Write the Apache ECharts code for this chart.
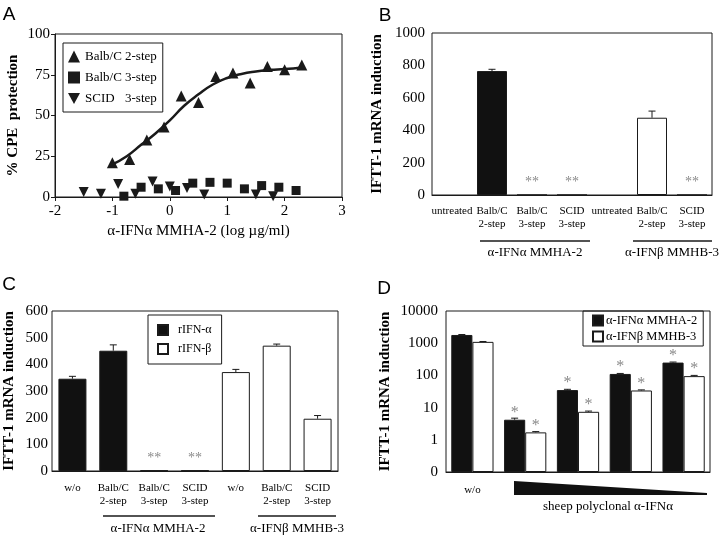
<!DOCTYPE html>
<html>
<head>
<meta charset="utf-8">
<script src="https://cdn.jsdelivr.net/npm/echarts@6/dist/echarts.min.js"></script>
<style>
html, body { margin: 0; padding: 0; background: #fff; }
#chart { width: 720px; height: 537px; }
</style>
</head>
<body>
<div id="chart"></div>
<script>
const SERIF = '"Liberation Serif", "Times New Roman", serif';
const SANS = '"Liberation Sans", Arial, sans-serif';
const INK = '#1a1a1a';
const STAR = '#8a8a8a';

// A - CPE protection vs log antibody dose
const aX2step = [-1.0, -0.7, -0.4, -0.1, 0.2, 0.5, 0.8, 1.1, 1.4, 1.7, 2.0, 2.3];
const aY2step = [21, 23, 35, 43, 62, 58, 74, 76, 70, 80, 78, 81];
const aX3step = [-0.8, -0.5, -0.2, 0.1, 0.4, 0.7, 1.0, 1.3, 1.6, 1.9, 2.2];
const aY3step = [0.5, 6, 5, 4, 8.5, 9, 8.5, 5, 7, 6, 4];
const aXScid = [-1.5, -1.2, -0.9, -0.6, -0.3, 0, 0.3, 0.6, 1.5, 1.8];
const aYScid = [3, 2, 8, 2, 9.5, 6.5, 5.5, 1.5, 1.5, 0.5];
const aFitX = [-1, -0.75, -0.5, -0.25, 0, 0.25, 0.5, 0.75, 1, 1.25, 1.5, 1.75, 2, 2.3];
const aFitY = [20, 25, 32, 39, 47, 56, 63, 69, 73, 75.5, 77, 78, 78.5, 79.5];

// B - IFTT-1 induction, antibodies
const bCats = ['untreated', 'Balb/C\n2-step', 'Balb/C\n3-step', 'SCID\n3-step', 'untreated', 'Balb/C\n2-step', 'SCID\n3-step'];
const bMMHA = [null, 765, 0, 0, null, null, null];
const bMMHB = [null, null, null, null, null, 477, 0];
const bErr = [null, 11, null, null, null, 41, null];
const bSig = ['', '', '**', '**', '', '', '**'];

// C - rIFN-alpha / rIFN-beta
const cCats = ['w/o', 'Balb/C\n2-step', 'Balb/C\n3-step', 'SCID\n3-step', 'w/o', 'Balb/C\n2-step', 'SCID\n3-step'];
const cAlpha = [346, 451, 2, 2, null, null, null];
const cBeta = [null, null, null, null, 371, 470, 196];
const cErr = [9, 22, 0, 0, 10, 6, 12];
const cSig = ['', '', '**', '**', '', '', ''];

// D - sheep polyclonal, log scale
const dCats = ['w/o', '', '', '', ''];
const dMMHA = [1800, 4.2, 35, 111, 250];
const dMMHAErr = [60, 0.5, 2, 4, 10];
const dMMHB = [1100, 1.7, 7.4, 34, 95];
const dMMHBErr = [30, 0.1, 0.4, 1.5, 5];
const dSig = ['', '*', '*', '*', '*'];

const pairs = (xs, ys) => xs.map((x, i) => [x, ys[i]]);

function barData(vals, sig, dist, size) {
  return vals.map((v, i) => v == null ? null : {
    value: v,
    label: { show: !!sig[i], formatter: sig[i], position: 'top', distance: dist,
             color: STAR, fontFamily: SERIF, fontSize: size }
  });
}

function errorBars(xi, yi, vals, errs, count, side, spread) {
  return {
    type: 'custom', xAxisIndex: xi, yAxisIndex: yi, silent: true, z: 5,
    data: vals.map((v, i) => [i, v, errs[i]]).filter(d => d[1] != null && d[2]),
    renderItem(params, api) {
      const band = params.coordSys.width / count;
      const i = api.value(0), v = api.value(1), e = api.value(2);
      const p0 = api.coord([i, v]);
      const p1 = api.coord([i, v + e]);
      const x = p0[0] + side * band * spread;
      return { type: 'group', children: [
        { type: 'line', shape: { x1: x, y1: p0[1], x2: x, y2: p1[1] }, style: { stroke: INK, lineWidth: 1 } },
        { type: 'line', shape: { x1: x - 3.5, y1: p1[1], x2: x + 3.5, y2: p1[1] }, style: { stroke: INK, lineWidth: 1 } }
      ]};
    }
  };
}

const axisBase = {
  axisLine: { onZero: false, lineStyle: { color: INK, width: 1 } },
  axisTick: { length: 4, lineStyle: { color: INK } },
  splitLine: { show: false }
};
const tickFont = { color: '#000', fontFamily: SERIF, fontSize: 15, formatter: v => String(v) };
const catFont = { color: '#000', fontFamily: SERIF, fontSize: 11, lineHeight: 12.5, interval: 0 };
const yName = { color: '#000', fontFamily: SERIF, fontSize: 15, fontWeight: 'bold' };
const IFTT = 'IFTT-1 mRNA induction';

const grid = { show: true, borderColor: INK, borderWidth: 1 };

const black = { color: '#111', borderColor: INK, borderWidth: 1 };
const white = { color: '#fff', borderColor: INK, borderWidth: 1 };
const dot = { color: INK, opacity: 1 };
const downTriangle = 'path://M0,0 L10,0 L5,9 Z';

function gtext(text, x, y, font) {
  return { type: 'text', x: x, y: y, silent: true,
           style: { text: text, font: font, fill: '#000', align: 'center', verticalAlign: 'middle' } };
}
function gline(x1, x2, y) {
  return { type: 'line', silent: true, shape: { x1: x1, y1: y, x2: x2, y2: y },
           style: { stroke: INK, lineWidth: 1.5 } };
}

const option = {
  animation: false,
  backgroundColor: '#fff',
  grid: [
    Object.assign({ left: 55, top: 34, width: 287, height: 163 }, grid),
    Object.assign({ left: 432, top: 33, width: 280, height: 162 }, grid),
    Object.assign({ left: 52, top: 311, width: 286, height: 160 }, grid),
    Object.assign({ left: 446, top: 311, width: 264, height: 161 }, grid)
  ],
  xAxis: [
    Object.assign({ type: 'value', gridIndex: 0, min: -2, max: 3, interval: 1,
      axisLabel: Object.assign({}, tickFont, { margin: 7 }),
      name: 'α-IFNα MMHA-2 (log µg/ml)', nameLocation: 'middle', nameGap: 27,
      nameTextStyle: { color: '#000', fontFamily: SERIF, fontSize: 15 } }, axisBase),
    Object.assign({ type: 'category', gridIndex: 1, data: bCats,
      axisLabel: Object.assign({ margin: 10 }, catFont) }, axisBase),
    Object.assign({ type: 'category', gridIndex: 2, data: cCats,
      axisLabel: Object.assign({ margin: 11 }, catFont) }, axisBase),
    Object.assign({ type: 'category', gridIndex: 3, data: dCats,
      axisLabel: Object.assign({ margin: 12 }, catFont) }, axisBase)
  ],
  yAxis: [
    Object.assign({ type: 'value', gridIndex: 0, min: 0, max: 100, interval: 25,
      axisLabel: Object.assign({}, tickFont, { margin: 5 }),
      name: '% CPE  protection', nameLocation: 'middle', nameGap: 34, nameTextStyle: yName }, axisBase),
    Object.assign({ type: 'value', gridIndex: 1, min: 0, max: 1000, interval: 200,
      axisLabel: Object.assign({}, tickFont, { margin: 7 }),
      name: IFTT, nameLocation: 'middle', nameGap: 47, nameTextStyle: yName }, axisBase),
    Object.assign({ type: 'value', gridIndex: 2, min: 0, max: 600, interval: 100,
      axisLabel: Object.assign({}, tickFont, { margin: 4 }),
      name: IFTT, nameLocation: 'middle', nameGap: 35, nameTextStyle: yName }, axisBase),
    Object.assign({ type: 'log', gridIndex: 3, logBase: 10, min: 0.1, max: 10000, startValue: 0.1,
      axisLabel: Object.assign({}, tickFont, { margin: 8, formatter: v => v < 1 ? '0' : String(Math.round(v)) }),
      name: IFTT, nameLocation: 'middle', nameGap: 53, nameTextStyle: yName }, axisBase)
  ],
  legend: [
    { data: [{ name: 'Balb/C 2-step' }, { name: 'Balb/C 3-step' }, { name: 'SCID 3-step', icon: downTriangle }],
      orient: 'vertical',
      left: 63, top: 43, padding: [7, 6, 7, 5], itemGap: 8, itemWidth: 12, itemHeight: 12,
      borderColor: INK, borderWidth: 1, itemStyle: { opacity: 1 },
      formatter: n => { const k = n.lastIndexOf(' '); return '{a|' + n.slice(0, k) + '}{b|' + n.slice(k + 1) + '}'; },
      textStyle: { color: '#000', fontFamily: SERIF, fontSize: 13,
        rich: { a: { width: 40, fontFamily: SERIF, fontSize: 13 }, b: { fontFamily: SERIF, fontSize: 13 } } } },
    { data: ['rIFN-α', 'rIFN-β'], orient: 'vertical', icon: 'rect',
      left: 148, top: 315, padding: [9, 10, 9, 9], itemGap: 7, itemWidth: 10, itemHeight: 10,
      borderColor: INK, borderWidth: 1,
      textStyle: { color: '#000', fontFamily: SERIF, fontSize: 12, padding: [0, 0, 0, 5] } },
    { data: ['α-IFNα MMHA-2', 'α-IFNβ MMHB-3'], orient: 'vertical', icon: 'rect',
      left: 583, top: 311, padding: [3, 6, 3, 9], itemGap: 3, itemWidth: 10, itemHeight: 10,
      borderColor: INK, borderWidth: 1,
      textStyle: { color: '#000', fontFamily: SERIF, fontSize: 12.5, padding: [0, 0, 0, -2] } }
  ],
  series: [
    { name: 'fit', type: 'line', xAxisIndex: 0, yAxisIndex: 0, smooth: true, symbol: 'none',
      data: pairs(aFitX, aFitY), lineStyle: { color: INK, width: 2.5 } },
    { name: 'Balb/C 2-step', type: 'scatter', xAxisIndex: 0, yAxisIndex: 0, symbol: 'triangle',
      symbolSize: 11, itemStyle: dot, data: pairs(aX2step, aY2step) },
    { name: 'Balb/C 3-step', type: 'scatter', xAxisIndex: 0, yAxisIndex: 0, symbol: 'rect',
      symbolSize: 9, itemStyle: dot, data: pairs(aX3step, aY3step) },
    { name: 'SCID 3-step', type: 'scatter', xAxisIndex: 0, yAxisIndex: 0, symbol: 'triangle',
      symbolRotate: 180, symbolSize: 10, itemStyle: dot, data: pairs(aXScid, aYScid) },

    { name: 'B MMHA-2', type: 'bar', xAxisIndex: 1, yAxisIndex: 1, barWidth: 30, barGap: '-100%',
      itemStyle: black, data: barData(bMMHA, bSig, 5, 14) },
    { name: 'B MMHB-3', type: 'bar', xAxisIndex: 1, yAxisIndex: 1, barWidth: 30, barGap: '-100%',
      itemStyle: white, data: barData(bMMHB, bSig, 5, 14) },
    errorBars(1, 1, bMMHA.map((v, i) => v != null ? v : bMMHB[i]), bErr, bCats.length, 0, 0),

    { name: 'rIFN-α', type: 'bar', xAxisIndex: 2, yAxisIndex: 2, barWidth: 28, barGap: '-100%',
      itemStyle: black, data: barData(cAlpha, cSig, 5, 14) },
    { name: 'rIFN-β', type: 'bar', xAxisIndex: 2, yAxisIndex: 2, barWidth: 28, barGap: '-100%',
      itemStyle: white, data: barData(cBeta, cSig, 5, 14) },
    errorBars(2, 2, cAlpha.map((v, i) => v != null ? v : cBeta[i]), cErr, cCats.length, 0, 0),

    { name: 'α-IFNα MMHA-2', type: 'bar', xAxisIndex: 3, yAxisIndex: 3, barCategoryGap: '20%', barGap: 0,
      itemStyle: black, data: barData(dMMHA, dSig, -1, 16) },
    { name: 'α-IFNβ MMHB-3', type: 'bar', xAxisIndex: 3, yAxisIndex: 3, barCategoryGap: '20%', barGap: 0,
      itemStyle: white, data: barData(dMMHB, dSig, -1, 16) },
    errorBars(3, 3, dMMHA, dMMHAErr, dCats.length, -1, 0.2),
    errorBars(3, 3, dMMHB, dMMHBErr, dCats.length, 1, 0.2)
  ],
  graphic: [
    gtext('A', 9, 15, '19px ' + SANS),
    gtext('B', 385, 16, '19px ' + SANS),
    gtext('C', 9, 285, '19px ' + SANS),
    gtext('D', 384, 289, '19px ' + SANS),
    gline(480, 590, 241), gline(633, 712, 241),
    gtext('α-IFNα MMHA-2', 535, 253, '13px ' + SERIF),
    gtext('α-IFNβ MMHB-3', 672, 253, '13px ' + SERIF),
    gline(103, 215, 516), gline(258, 336, 516),
    gtext('α-IFNα MMHA-2', 158, 529, '13px ' + SERIF),
    gtext('α-IFNβ MMHB-3', 297, 529, '13px ' + SERIF),
    { type: 'polygon', silent: true,
      shape: { points: [[514, 481], [707, 493], [707, 495], [514, 495]] },
      style: { fill: '#111' } },
    gtext('sheep polyclonal α-IFNα', 608, 507, '13px ' + SERIF)
  ]
};

const chart = echarts.init(document.getElementById('chart'), null, { renderer: 'canvas' });
chart.setOption(option);
</script>
</body>
</html>
